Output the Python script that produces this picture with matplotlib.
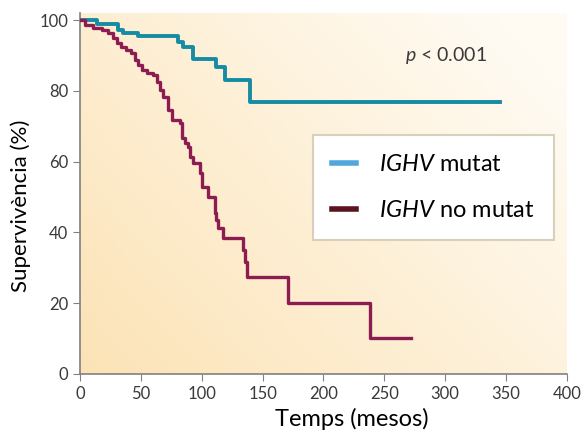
import matplotlib.pyplot as plt
import numpy as np
from matplotlib.lines import Line2D

plt.rcParams["font.family"] = ["Lato", "DejaVu Sans"]
plt.rcParams["mathtext.fontset"] = "custom"
plt.rcParams["mathtext.rm"] = "Lato"
plt.rcParams["mathtext.it"] = "Lato:italic"

# Kaplan-Meier steps (time in months, survival in %)
mutat_time = [0, 14, 31.5, 35.6, 47.8, 80.6, 84.8, 93, 112, 119, 139.6, 345]
mutat_surv = [100, 99, 97.2, 96.2, 95.6, 93.9, 92.5, 88.9, 86.8, 83, 76.9, 76.9]

nomutat_time = [0, 4, 11, 18, 23, 27, 30, 34, 38, 42, 45, 48, 51, 55, 60, 63, 66, 68,
                72.6, 75.3, 82, 83.5, 86.2, 89, 90.3, 93, 98.6, 100, 105, 110.5, 112,
                113.6, 117.7, 134, 135.5, 137, 171, 238, 272]
nomutat_surv = [100, 98.6, 97.8, 97.2, 96.3, 94.9, 93.5, 92.5, 91.5, 90.6, 88.7, 87.3,
                85.9, 84.9, 84.5, 82.6, 80.2, 78.3, 74.6, 71.8, 70.8, 66.6, 65.2, 64.2,
                61.4, 59.5, 56.7, 52.9, 50.1, 45.4, 43.5, 41.2, 38.3, 35, 31.7, 27.5,
                20, 10.1, 10.1]

labels = [r"$\mathit{IGHV}$ mutat", r"$\mathit{IGHV}$ no mutat"]
x_ticks = np.arange(0, 401, 50)
y_ticks = np.arange(0, 101, 20)

fig = plt.figure(figsize=(5.81, 4.32), dpi=100)
ax = fig.add_axes([0.1377, 0.1343, 0.838, 0.8357])

# warm gradient background, strongest at bottom-left
u = np.linspace(0, 1, 200)
v = np.linspace(0, 1, 200)
U, V = np.meshgrid(u, v)
w = np.clip(1 - (0.65 * U + 0.45 * V), 0, 1)
start = np.array([255, 251, 243]) / 255
end = np.array([252, 227, 182]) / 255
img = start + (end - start) * w[..., None]
ax.imshow(img, extent=[0, 1, 0, 1], origin="lower", transform=ax.transAxes,
          aspect="auto", zorder=0)

ax.step(mutat_time, mutat_surv, where="post", color="#168ca4", lw=2.8, zorder=3)
ax.step(nomutat_time, nomutat_surv, where="post", color="#8c1d52", lw=2.4, zorder=3)

ax.set_xlim(0, 400)
ax.set_ylim(0, 102)
ax.set_xticks(x_ticks)
ax.set_yticks(y_ticks)
for side in ["top", "right"]:
    ax.spines[side].set_visible(False)
for side in ["left", "bottom"]:
    ax.spines[side].set_color("#808080")
    ax.spines[side].set_linewidth(1.2)
ax.tick_params(direction="out", length=5, color="#808080", labelcolor="#3a3a3a",
               labelsize=12)

ax.set_xlabel("Temps (mesos)", fontsize=17)
ax.xaxis.set_label_coords(0.558, -0.095)
ax.set_ylabel("Supervivència (%)", fontsize=16)
ax.yaxis.set_label_coords(-0.1, 0.465)

ax.text(267, 90, r"$p$ < 0.001", fontsize=14, color="#3a3a3a", va="center")

handles = [Line2D([], [], color="#4fa8dc", lw=4),
           Line2D([], [], color="#5a1320", lw=4)]
leg = ax.legend(handles, labels, loc="upper left", bbox_to_anchor=(0.478, 0.662),
                borderaxespad=0, fontsize=17, frameon=True, fancybox=False,
                handlelength=1.05, handletextpad=0.95, labelspacing=1.08,
                borderpad=0.8)
leg.get_frame().set_edgecolor("#d9d0bc")
leg.get_frame().set_linewidth(1.5)
leg.get_frame().set_alpha(1)

fig.savefig("out.png", dpi=100)
